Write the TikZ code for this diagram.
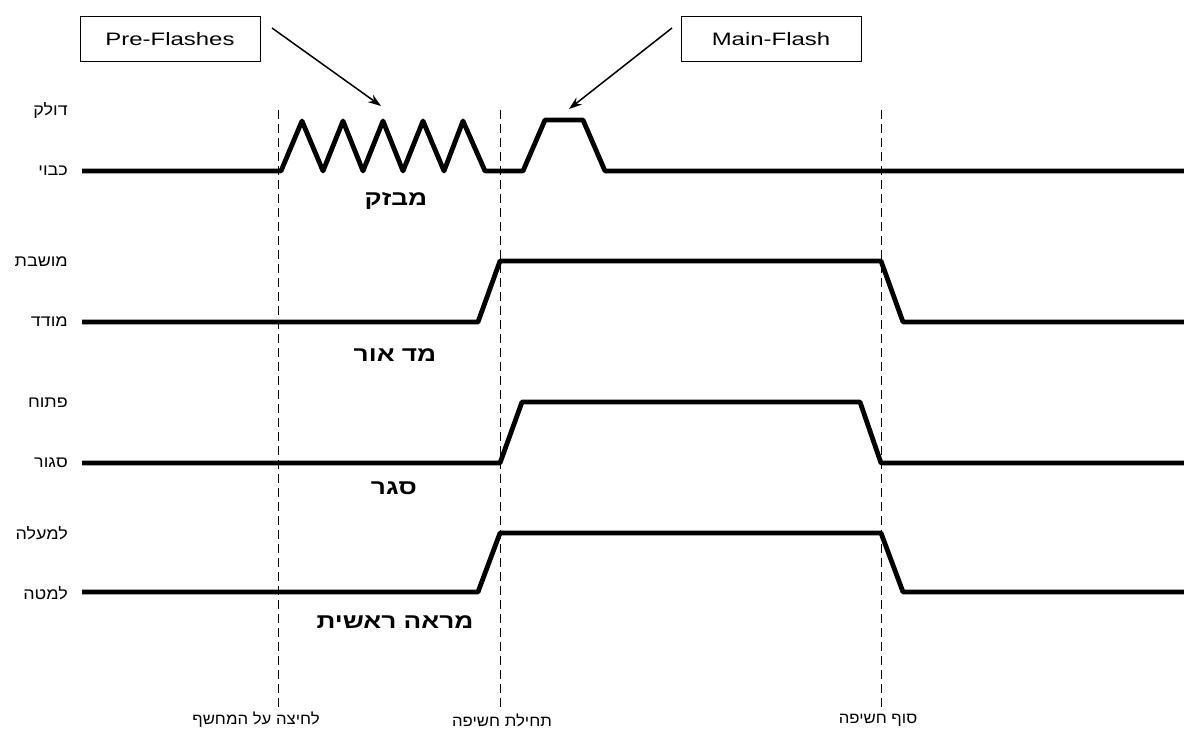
\documentclass[tikz,border=0pt]{standalone}
\usepackage{fontspec}
\setmainfont{Liberation Sans}
\newfontfamily\hebfont[Script=Hebrew]{Liberation Sans}
\TeXXeTstate=1
\usetikzlibrary{arrows.meta}
\newcommand{\hb}[2][1.12]{\scalebox{#1}[1]{\hebfont\beginR #2\endR}}
\begin{document}
\begin{tikzpicture}[x=1pt,y=-1pt,
  wave/.style={line width=4.8pt,line join=round},
  guide/.style={line width=0.9pt,dash pattern=on 9pt off 5pt},
  statelbl/.style={anchor=east,inner sep=0pt,font=\fontsize{16}{16}\selectfont},
  sigtitle/.style={inner sep=0pt,font=\bfseries\fontsize{21}{21}\selectfont},
  eventlbl/.style={inner sep=0pt,font=\fontsize{15.5}{15.5}\selectfont},
  callout/.style={draw,line width=1pt,minimum width=180pt,minimum height=45pt,inner sep=0pt,font=\fontsize{18}{18}\selectfont},
  pointer/.style={line width=1.5pt,-{Stealth[length=13pt,width=9pt]}}]
\useasboundingbox (0,0) rectangle (1184,733);
\fill[white] (0,0) rectangle (1184,733);

% callouts
\node[callout] (pre) at (170,39.5) {\scalebox{1.33}[1]{Pre-Flashes}};
\node[callout] (main) at (771,39.5) {\scalebox{1.33}[1]{Main-Flash}};
\coordinate (preFrom) at (272,28);
\coordinate (preTip) at (381,106);
\coordinate (mainFrom) at (672,28);
\coordinate (mainTip) at (569,109);
\draw[pointer] (preFrom) -- (preTip);
\draw[pointer] (mainFrom) -- (mainTip);

% guide lines
\coordinate (g1t) at (278,110); \coordinate (g1b) at (278,711);
\coordinate (g2t) at (500,110); \coordinate (g2b) at (500,711);
\coordinate (g3t) at (881,110); \coordinate (g3b) at (881,711);
\draw[guide] (g1t) -- (g1b);
\draw[guide] (g2t) -- (g2b);
\draw[guide] (g3t) -- (g3b);

% waveforms
\draw[wave] (82,171) -- (281,171) -- (302,121) -- (323,171) -- (343,121) -- (363,171)
  -- (383,121) -- (403,171) -- (423,121) -- (444,171) -- (463,121) -- (485,171)
  -- (523,171) -- (545,120) -- (583,120) -- (605,171) -- (1184,171);
\draw[wave] (82,322) -- (478,322) -- (500,261) -- (881,261) -- (903,322) -- (1184,322);
\draw[wave] (82,463) -- (500,463) -- (522,402) -- (860,402) -- (881,463) -- (1184,463);
\draw[wave] (82,592) -- (478,592) -- (500,533) -- (881,533) -- (903,592) -- (1184,592);

% state labels
\node[statelbl] (s1h) at (68,111) {\hb{דולק}};
\node[statelbl] (s1l) at (68,171) {\hb{כבוי}};
\node[statelbl] (s2h) at (68,262) {\hb{מושבת}};
\node[statelbl] (s2l) at (68,322) {\hb{מודד}};
\node[statelbl] (s3h) at (68,403) {\hb{פתוח}};
\node[statelbl] (s3l) at (68,463) {\hb{סגור}};
\node[statelbl] (s4h) at (68,533) {\hb{למעלה}};
\node[statelbl] (s4l) at (68,593) {\hb{למטה}};

% signal titles
\node[sigtitle] (t1) at (396,201) {\hb[1.25]{מבזק}};
\node[sigtitle] (t2) at (395,355) {\hb[1.25]{מד אור}};
\node[sigtitle] (t3) at (394,488) {\hb[1.25]{סגר}};
\node[sigtitle] (t4) at (395,622) {\hb[1.25]{מראה ראשית}};

% event labels
\node[eventlbl] (e1) at (256,720) {\hb[1.08]{לחיצה על המחשף}};
\node[eventlbl] (e2) at (502,720) {\hb[1.08]{תחילת חשיפה}};
\node[eventlbl] (e3) at (878,720) {\hb[1.08]{סוף חשיפה}};
\end{tikzpicture}
\end{document}
